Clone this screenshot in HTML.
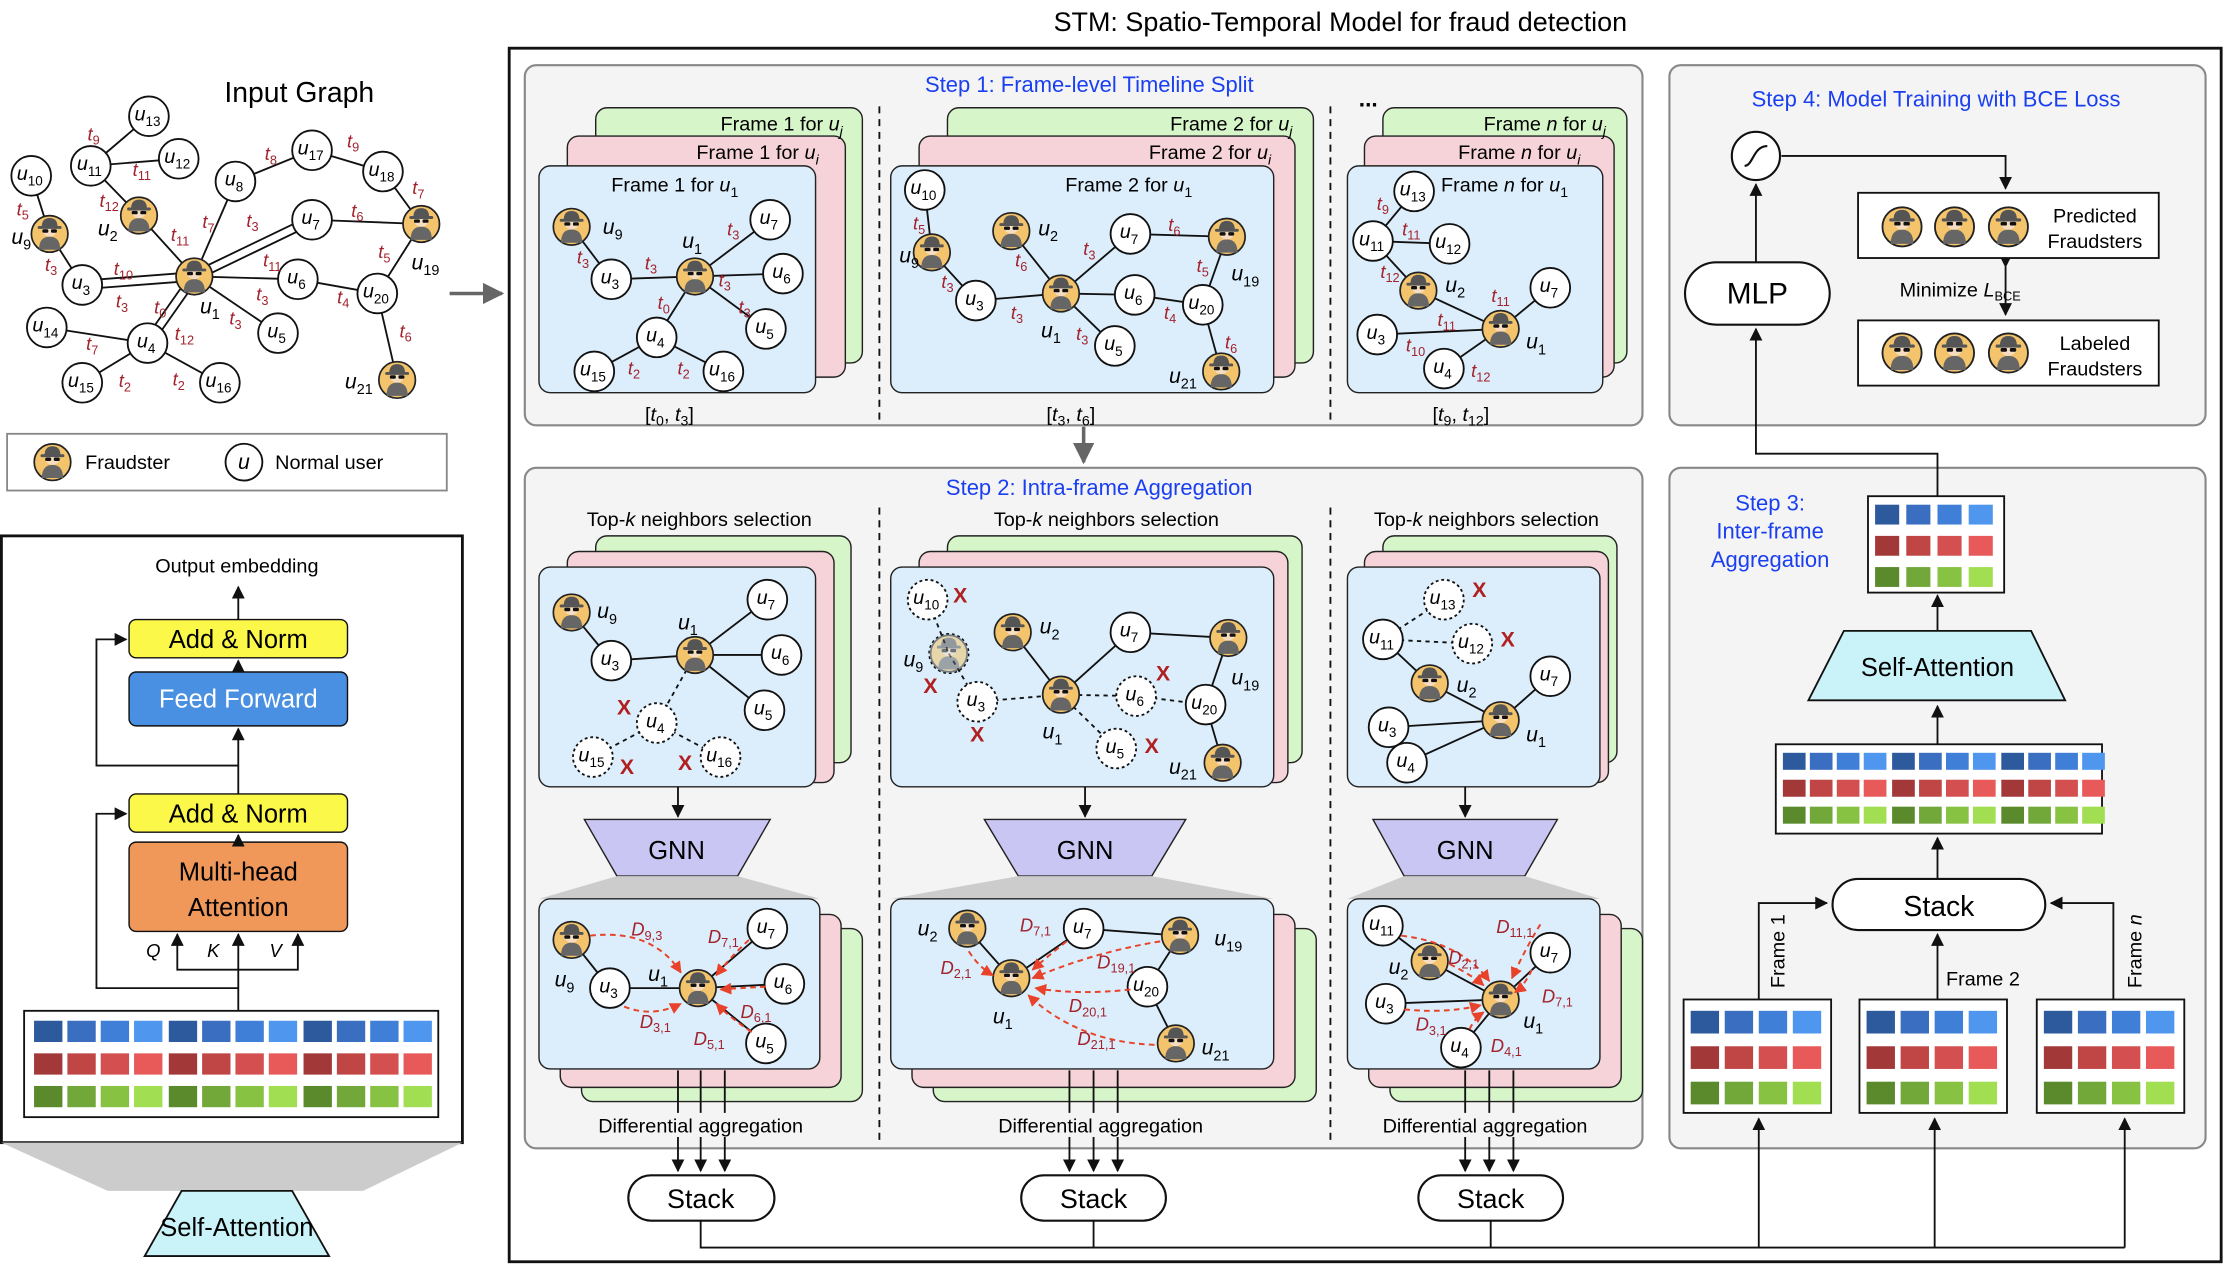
<!DOCTYPE html>
<html><head><meta charset="utf-8"><style>
html,body{margin:0;padding:0;background:#fff;}
svg{display:block;font-family:"Liberation Sans",sans-serif;}
</style></head><body>
<svg id="fig" xmlns="http://www.w3.org/2000/svg" width="2224" height="1266" viewBox="0 0 1568 893" preserveAspectRatio="none">
<defs>
<marker id="ah" viewBox="0 0 10 10" refX="9" refY="5" markerWidth="7" markerHeight="7" orient="auto"><path d="M0,0L10,5L0,10z" fill="#111"/></marker>
<marker id="ahg" viewBox="0 0 10 10" refX="9" refY="5" markerWidth="6" markerHeight="6" orient="auto"><path d="M0,0L10,5L0,10z" fill="#666"/></marker>
<marker id="ahr" viewBox="0 0 10 10" refX="9" refY="5" markerWidth="6" markerHeight="6" orient="auto"><path d="M0,0L10,5L0,10z" fill="#e8432a"/></marker>
<symbol id="fr" viewBox="-15 -15 30 30">
<circle r="13.8" fill="#f3c46b" stroke="#222" stroke-width="1.3"/>
<path d="M-8,12 Q-8,2 0,2 Q8,2 8,12 Z" fill="#666"/>
<ellipse cx="0" cy="-3" rx="5.5" ry="5" fill="#f6dcc0"/>
<path d="M-6,-5 Q-6,-12 0,-12 Q6,-12 6,-5 Z" fill="#555"/>
<rect x="-9" y="-6" width="18" height="2.2" rx="1" fill="#555"/>
<rect x="-5.5" y="-3.5" width="4.5" height="2.6" rx="1" fill="#111"/>
<rect x="1" y="-3.5" width="4.5" height="2.6" rx="1" fill="#111"/>
</symbol>
</defs>

<text x="945" y="22" font-size="19" text-anchor="middle">STM: Spatio-Temporal Model for fraud detection</text>
<rect x="359" y="34" width="1207" height="856" fill="none" stroke="#111" stroke-width="2"/>

<rect x="370" y="46" width="788" height="254" rx="8" fill="#f4f4f4" stroke="#888" stroke-width="1.5"/>
<rect x="1177" y="46" width="378" height="254" rx="8" fill="#f4f4f4" stroke="#888" stroke-width="1.5"/>
<rect x="370" y="330" width="788" height="480" rx="8" fill="#f4f4f4" stroke="#888" stroke-width="1.5"/>
<rect x="1177" y="330" width="378" height="480" rx="8" fill="#f4f4f4" stroke="#888" stroke-width="1.5"/>
<text x="768" y="65" font-size="15.5" fill="#1a3ff0" text-anchor="middle">Step 1: Frame-level Timeline Split</text>
<text x="1365" y="75" font-size="15.5" fill="#1a3ff0" text-anchor="middle">Step 4: Model Training with BCE Loss</text>
<text x="775" y="349" font-size="15.5" fill="#1a3ff0" text-anchor="middle">Step 2: Intra-frame Aggregation</text>
<g font-size="15.5" fill="#1a3ff0" text-anchor="middle">
<text x="1248" y="360">Step 3:</text><text x="1248" y="380">Inter-frame</text><text x="1248" y="400">Aggregation</text></g>

<g stroke="#111" stroke-width="1.3" stroke-dasharray="5,4">
<line x1="620" y1="75" x2="620" y2="297"/><line x1="938" y1="75" x2="938" y2="297"/>
<line x1="620" y1="358" x2="620" y2="806"/><line x1="938" y1="358" x2="938" y2="806"/>
</g>
<text x="958" y="75" font-size="16" font-weight="bold">...</text>

<g>
<rect x="420" y="76" width="188" height="180" rx="8" fill="#d6f5c9" stroke="#222"/>
<rect x="400" y="96" width="196" height="170" rx="8" fill="#f5d3d9" stroke="#222"/>
<rect x="380" y="117" width="195" height="160" rx="8" fill="#dceefb" stroke="#222"/>
<text x="508" y="92" font-size="14">Frame 1 for <tspan font-style="italic">u</tspan><tspan font-size="10" dy="4" font-style="italic">j</tspan></text>
<text x="491" y="112" font-size="14">Frame 1 for <tspan font-style="italic">u</tspan><tspan font-size="10" dy="4" font-style="italic">i</tspan></text>
<text x="431" y="135" font-size="14">Frame 1 for <tspan font-style="italic">u</tspan><tspan font-size="10" dy="4">1</tspan></text>
<text x="472" y="297" font-size="14" text-anchor="middle">[<tspan font-style="italic">t</tspan><tspan font-size="10" dy="3">0</tspan><tspan dy="-3">, </tspan><tspan font-style="italic">t</tspan><tspan font-size="10" dy="3">3</tspan><tspan dy="-3">]</tspan></text>
</g>
<g>
<rect x="668" y="76" width="258" height="180" rx="8" fill="#d6f5c9" stroke="#222"/>
<rect x="648" y="96" width="265" height="170" rx="8" fill="#f5d3d9" stroke="#222"/>
<rect x="628" y="117" width="270" height="160" rx="8" fill="#dceefb" stroke="#222"/>
<text x="825" y="92" font-size="14">Frame 2 for <tspan font-style="italic">u</tspan><tspan font-size="10" dy="4" font-style="italic">j</tspan></text>
<text x="810" y="112" font-size="14">Frame 2 for <tspan font-style="italic">u</tspan><tspan font-size="10" dy="4" font-style="italic">i</tspan></text>
<text x="751" y="135" font-size="14">Frame 2 for <tspan font-style="italic">u</tspan><tspan font-size="10" dy="4">1</tspan></text>
<text x="755" y="297" font-size="14" text-anchor="middle">[<tspan font-style="italic">t</tspan><tspan font-size="10" dy="3">3</tspan><tspan dy="-3">, </tspan><tspan font-style="italic">t</tspan><tspan font-size="10" dy="3">6</tspan><tspan dy="-3">]</tspan></text>
</g>
<g>
<rect x="975" y="76" width="172" height="180" rx="8" fill="#d6f5c9" stroke="#222"/>
<rect x="962" y="96" width="176" height="170" rx="8" fill="#f5d3d9" stroke="#222"/>
<rect x="950" y="117" width="180" height="160" rx="8" fill="#dceefb" stroke="#222"/>
<text x="1046" y="92" font-size="14">Frame <tspan font-style="italic">n</tspan> for <tspan font-style="italic">u</tspan><tspan font-size="10" dy="4" font-style="italic">j</tspan></text>
<text x="1028" y="112" font-size="14">Frame <tspan font-style="italic">n</tspan> for <tspan font-style="italic">u</tspan><tspan font-size="10" dy="4" font-style="italic">i</tspan></text>
<text x="1016" y="135" font-size="14">Frame <tspan font-style="italic">n</tspan> for <tspan font-style="italic">u</tspan><tspan font-size="10" dy="4">1</tspan></text>
<text x="1030" y="297" font-size="14" text-anchor="middle">[<tspan font-style="italic">t</tspan><tspan font-size="10" dy="3">9</tspan><tspan dy="-3">, </tspan><tspan font-style="italic">t</tspan><tspan font-size="10" dy="3">12</tspan><tspan dy="-3">]</tspan></text>
</g>
<line x1="764" y1="301" x2="764" y2="326" stroke="#666" stroke-width="2.5" marker-end="url(#ahg)"/>

<g font-size="14" text-anchor="middle">
<text x="493" y="371">Top-<tspan font-style="italic">k</tspan> neighbors selection</text>
<text x="780" y="371">Top-<tspan font-style="italic">k</tspan> neighbors selection</text>
<text x="1048" y="371">Top-<tspan font-style="italic">k</tspan> neighbors selection</text>
</g>
<g stroke="#222">
<rect x="420" y="378" width="180" height="160" rx="8" fill="#d6f5c9"/><rect x="400" y="389" width="188" height="163" rx="8" fill="#f5d3d9"/><rect x="380" y="400" width="195" height="155" rx="8" fill="#dceefb"/>
<rect x="668" y="378" width="250" height="160" rx="8" fill="#d6f5c9"/><rect x="648" y="389" width="260" height="163" rx="8" fill="#f5d3d9"/><rect x="628" y="400" width="270" height="155" rx="8" fill="#dceefb"/>
<rect x="975" y="378" width="165" height="160" rx="8" fill="#d6f5c9"/><rect x="962" y="389" width="172" height="163" rx="8" fill="#f5d3d9"/><rect x="950" y="400" width="178" height="155" rx="8" fill="#dceefb"/>
</g>
<g>
<polygon points="412,578 543,578 520,618 435,618" fill="#c9c6f4" stroke="#222"/>
<polygon points="694,578 836,578 812,618 718,618" fill="#c9c6f4" stroke="#222"/>
<polygon points="968,578 1098,578 1075,618 990,618" fill="#c9c6f4" stroke="#222"/>
<polygon points="435,618 520,618 578,634 380,634" fill="#ccc"/>
<polygon points="718,618 812,618 898,634 628,634" fill="#ccc"/>
<polygon points="990,618 1075,618 1128,634 950,634" fill="#ccc"/>
<text x="477" y="606" font-size="18" text-anchor="middle">GNN</text>
<text x="765" y="606" font-size="18" text-anchor="middle">GNN</text>
<text x="1033" y="606" font-size="18" text-anchor="middle">GNN</text>
</g>
<g stroke="#111" stroke-width="1.3">
<line x1="478" y1="555" x2="478" y2="576" marker-end="url(#ah)"/><line x1="765" y1="555" x2="765" y2="576" marker-end="url(#ah)"/><line x1="1033" y1="555" x2="1033" y2="576" marker-end="url(#ah)"/>
</g>
<g stroke="#222">
<rect x="410" y="655" width="198" height="122" rx="8" fill="#d6f5c9"/><rect x="395" y="645" width="198" height="122" rx="8" fill="#f5d3d9"/><rect x="380" y="634" width="198" height="120" rx="8" fill="#dceefb"/>
<rect x="658" y="655" width="270" height="122" rx="8" fill="#d6f5c9"/><rect x="643" y="645" width="270" height="122" rx="8" fill="#f5d3d9"/><rect x="628" y="634" width="270" height="120" rx="8" fill="#dceefb"/>
<rect x="980" y="655" width="178" height="122" rx="8" fill="#d6f5c9"/><rect x="965" y="645" width="178" height="122" rx="8" fill="#f5d3d9"/><rect x="950" y="634" width="178" height="120" rx="8" fill="#dceefb"/>
</g>
<g stroke="#111" stroke-width="1.3">
<line x1="478" y1="755" x2="478" y2="826" marker-end="url(#ah)"/><line x1="494" y1="755" x2="494" y2="826" marker-end="url(#ah)"/><line x1="511" y1="755" x2="511" y2="826" marker-end="url(#ah)"/>
<line x1="754" y1="755" x2="754" y2="826" marker-end="url(#ah)"/><line x1="771" y1="755" x2="771" y2="826" marker-end="url(#ah)"/><line x1="788" y1="755" x2="788" y2="826" marker-end="url(#ah)"/>
<line x1="1033" y1="755" x2="1033" y2="826" marker-end="url(#ah)"/><line x1="1050" y1="755" x2="1050" y2="826" marker-end="url(#ah)"/><line x1="1067" y1="755" x2="1067" y2="826" marker-end="url(#ah)"/>
</g>
<g font-size="14" text-anchor="middle">
<rect x="415" y="785" width="158" height="17" fill="#f4f4f4"/><text x="494" y="799">Differential aggregation</text>
<rect x="697" y="785" width="158" height="17" fill="#f4f4f4"/><text x="776" y="799">Differential aggregation</text>
<rect x="968" y="785" width="158" height="17" fill="#f4f4f4"/><text x="1047" y="799">Differential aggregation</text>
</g>
<g fill="#fff" stroke="#111" stroke-width="1.5">
<rect x="443" y="829" width="103" height="32" rx="16"/><rect x="720" y="829" width="102" height="32" rx="16"/><rect x="1000" y="829" width="102" height="32" rx="16"/>
</g>
<g font-size="19" text-anchor="middle">
<text x="494" y="852">Stack</text><text x="771" y="852">Stack</text><text x="1051" y="852">Stack</text></g>
<g stroke="#111" stroke-width="1.3" fill="none">
<polyline points="494,861 494,880 1498,880"/>
<line x1="771" y1="861" x2="771" y2="880"/><line x1="1051" y1="861" x2="1051" y2="880"/>
<line x1="1240" y1="880" x2="1240" y2="789" marker-end="url(#ah)"/>
<line x1="1364" y1="880" x2="1364" y2="789" marker-end="url(#ah)"/>
<line x1="1498" y1="880" x2="1498" y2="789" marker-end="url(#ah)"/>
</g>

<g fill="#fff" stroke="#111" stroke-width="1.3">
<rect x="1187" y="705" width="104" height="80"/><rect x="1311" y="705" width="104" height="80"/><rect x="1436" y="705" width="104" height="80"/>
</g>
<g font-size="14">
<text transform="translate(1258,697) rotate(-90)">Frame 1</text>
<text x="1372" y="695">Frame 2</text>
<text transform="translate(1510,697) rotate(-90)">Frame <tspan font-style="italic">n</tspan></text>
</g>
<g stroke="#111" stroke-width="1.3" fill="none">
<polyline points="1240,705 1240,637 1288,637" marker-end="url(#ah)"/>
<line x1="1366" y1="705" x2="1366" y2="659" marker-end="url(#ah)"/>
<polyline points="1490,705 1490,637 1446,637" marker-end="url(#ah)"/>
<line x1="1366" y1="620" x2="1366" y2="591" marker-end="url(#ah)"/>
<line x1="1366" y1="525" x2="1366" y2="498" marker-end="url(#ah)"/>
<line x1="1366" y1="445" x2="1366" y2="420" marker-end="url(#ah)"/>
<polyline points="1366,350 1366,320 1238,320 1238,232" marker-end="url(#ah)"/>
<line x1="1238" y1="185" x2="1238" y2="130" marker-end="url(#ah)"/>
<polyline points="1256,110 1414,110 1414,133" marker-end="url(#ah)"/>
<line x1="1414" y1="188" x2="1414" y2="222" marker-start="url(#ah)" marker-end="url(#ah)"/>
</g>
<rect x="1292" y="620" width="150" height="36" rx="18" fill="#fff" stroke="#111" stroke-width="1.5"/>
<text x="1367" y="646" font-size="20" text-anchor="middle">Stack</text>
<rect x="1252" y="525" width="230" height="63" fill="#fff" stroke="#111" stroke-width="1.3"/>
<polygon points="1300,445 1432,445 1456,494 1275,494" fill="#c9f3f8" stroke="#111" stroke-width="1.3"/>
<text x="1366" y="477" font-size="18" text-anchor="middle">Self-Attention</text>
<rect x="1317" y="350" width="96" height="68" fill="#fff" stroke="#111" stroke-width="1.3"/>

<circle cx="1238" cy="110" r="17" fill="#fff" stroke="#111" stroke-width="1.5"/>
<path d="M1230,117 C1236,117 1236,103 1246,103" fill="none" stroke="#111" stroke-width="1.5"/>
<rect x="1188" y="185" width="102" height="44" rx="22" fill="#fff" stroke="#111" stroke-width="1.5"/>
<text x="1239" y="214" font-size="21" text-anchor="middle">MLP</text>
<rect x="1310" y="136" width="212" height="46" fill="#fff" stroke="#111" stroke-width="1.3"/>
<rect x="1310" y="226" width="212" height="46" fill="#fff" stroke="#111" stroke-width="1.3"/>
<g font-size="14" text-anchor="middle">
<text x="1477" y="157">Predicted</text><text x="1477" y="175">Fraudsters</text>
<text x="1477" y="247">Labeled</text><text x="1477" y="265">Fraudsters</text>
<text x="1382" y="209">Minimize <tspan font-style="italic">L</tspan><tspan font-size="9" dy="3">BCE</tspan></text>
</g>

<text x="211" y="72" font-size="20" text-anchor="middle">Input Graph</text>
<rect x="5" y="306" width="310" height="40" fill="#fff" stroke="#888" stroke-width="1.3"/>
<text x="60" y="331" font-size="14">Fraudster</text>
<circle cx="172" cy="326" r="13" fill="#fff" stroke="#111" stroke-width="1.3"/>
<text x="172" y="331" font-size="15" font-style="italic" text-anchor="middle">u</text>
<text x="194" y="331" font-size="14">Normal user</text>
<line x1="317" y1="207" x2="354" y2="207" stroke="#666" stroke-width="2.5" marker-end="url(#ahg)"/>

<rect x="1" y="378" width="325" height="428" fill="#fff" stroke="#111" stroke-width="2"/>
<polygon points="1,806 326,806 256,840 76,840" fill="#ccc"/>
<polygon points="128,840 206,840 232,886 102,886" fill="#c9f3f8" stroke="#111" stroke-width="1.3"/>
<text x="167" y="872" font-size="18" text-anchor="middle">Self-Attention</text>
<text x="167" y="404" font-size="14" text-anchor="middle">Output embedding</text>
<rect x="91" y="437" width="154" height="27" rx="5" fill="#fbf84a" stroke="#111"/>
<text x="168" y="457" font-size="18" text-anchor="middle">Add &amp; Norm</text>
<rect x="91" y="474" width="154" height="38" rx="5" fill="#4a90e2" stroke="#111"/>
<text x="168" y="499" font-size="18" text-anchor="middle" fill="#fff">Feed Forward</text>
<rect x="91" y="560" width="154" height="27" rx="5" fill="#fbf84a" stroke="#111"/>
<text x="168" y="580" font-size="18" text-anchor="middle">Add &amp; Norm</text>
<rect x="91" y="594" width="154" height="63" rx="5" fill="#f0975a" stroke="#111"/>
<text x="168" y="621" font-size="18" text-anchor="middle">Multi-head</text>
<text x="168" y="646" font-size="18" text-anchor="middle">Attention</text>
<g font-size="13" font-style="italic"><text x="103" y="675">Q</text><text x="146" y="675">K</text><text x="190" y="675">V</text></g>
<g stroke="#111" stroke-width="1.3" fill="none">
<line x1="168" y1="437" x2="168" y2="414" marker-end="url(#ah)"/>
<line x1="168" y1="474" x2="168" y2="466" marker-end="url(#ah)"/>
<line x1="168" y1="560" x2="168" y2="514" marker-end="url(#ah)"/>
<line x1="168" y1="594" x2="168" y2="589" marker-end="url(#ah)"/>
<line x1="168" y1="713" x2="168" y2="659" marker-end="url(#ah)"/>
<polyline points="168,684 125,684 125,659" marker-end="url(#ah)"/>
<polyline points="168,684 210,684 210,659" marker-end="url(#ah)"/>
<polyline points="168,697 68,697 68,574 89,574" marker-end="url(#ah)"/>
<polyline points="168,540 68,540 68,451 89,451" marker-end="url(#ah)"/>
</g>
<rect x="17" y="713" width="292" height="75" fill="#fff" stroke="#111" stroke-width="1.3"/>
</svg>
<script>
const svg=document.getElementById('fig');
const NS='http://www.w3.org/2000/svg';
function mk(tag,attrs,parent){const e=document.createElementNS(NS,tag);for(const k in attrs)e.setAttribute(k,attrs[k]);(parent||svg).appendChild(e);return e;}
const BLUES=['#2d5a9c','#3a6ec0','#3f7fd8','#4f96ee'];
const REDS=['#a33838','#c04646','#d44f4f','#e85a5a'];
const GREENS=['#5a8a2c','#72a83a','#88c242','#a2de52'];
function grid(x,y,groups,w,h,pitch,rowPitch,groupGap){
  for(let g=0;g<groups;g++)for(let c=0;c<4;c++){
    const cols=[BLUES,REDS,GREENS];
    for(let r=0;r<3;r++){
      const e=mk('rect',{x:x+g*groupGap+c*pitch,y:y+r*rowPitch,width:w,height:h,fill:cols[r][c]});
      
      
    }
  }
}
grid(24,720,3,20,15,23.5,23,95);
grid(1322,356,1,17,14,22,22,0);
grid(1257,531,3,16,12,19,19,77);
grid(1192,713,1,20,16,24,25,0);
grid(1316,713,1,20,16,24,25,0);
grid(1441,713,1,20,16,24,25,0);

function ulab(x,y,sub,size,anchor){
  const t=mk('text',{x:x,y:y,'font-size':size||15,'text-anchor':anchor||'middle'});
  
  
  const a=mk('tspan',{'font-style':'italic'},t);a.textContent='u';
  const b=mk('tspan',{'font-size':(size||15)*0.68,dy:4},t);b.textContent=sub;
  return t;
}
function tlab(x,y,sub,col,letter){
  const t=mk('text',{x:x,y:y,'font-size':13,fill:col||'#a3232d','text-anchor':'middle'});
  
  
  const a=mk('tspan',{'font-style':'italic'},t);a.textContent=letter||'t';
  const b=mk('tspan',{'font-size':9,dy:3},t);b.textContent=sub;
}
function node(x,y,sub,o){
  o=o||{};const r=o.r||14;
  if(o.fraud){
    const u=mk('use',{href:'#fr',x:x-r,y:y-r,width:2*r,height:2*r});
    
    
    if(o.dashed){u.setAttribute('opacity','0.55');
      const c=mk('circle',{cx:x,cy:y,r:r,fill:'none',stroke:'#111','stroke-dasharray':'2,2'});
      
      }
    if(sub)ulab(o.lx,o.ly,sub,15);
  }else{
    const c=mk('circle',{cx:x,cy:y,r:r,fill:'#fff',stroke:'#111','stroke-width':1.3,'stroke-dasharray':o.dashed?'2,2':'none'});
    
    
    ulab(x-1,y+3,sub,14);
  }
}
function edges(P,list,dashed){
  list.forEach(p=>{const a=P[p[0]],b=P[p[1]];
    const l=mk('line',{x1:a[0],y1:a[1],x2:b[0],y2:b[1],stroke:'#111','stroke-width':1.3,'stroke-dasharray':(dashed||p[2]==='d')?'3,3':'none'});
    
    
    if(p[2]==='2'){const dx=b[0]-a[0],dy=b[1]-a[1],L=Math.hypot(dx,dy),nx=-dy/L*3,ny=dx/L*3;
      l.setAttribute('x1',a[0]+nx);l.setAttribute('y1',a[1]+ny);l.setAttribute('x2',b[0]+nx);l.setAttribute('y2',b[1]+ny);
      const l2=mk('line',{x1:a[0]-nx,y1:a[1]-ny,x2:b[0]-nx,y2:b[1]-ny,stroke:'#111','stroke-width':1.3});
      
      }
  });
}
function graph(P,E,F,labels){
  edges(P,E);
  for(const k in P){const p=P[k];node(p[0],p[1],k,{fraud:F[k],lx:(labels[k]||[])[0],ly:(labels[k]||[])[1],dashed:p[2]});}
}
function xmark(x,y){const t=mk('text',{x:x,y:y,'font-size':15,'font-weight':'bold',fill:'#b02020','text-anchor':'middle'});
  
  
  t.textContent='X';}
function darrow(d){const p=mk('path',{d:d,fill:'none',stroke:'#e8432a','stroke-width':1.4,'stroke-dasharray':'4,3','marker-end':'url(#ahr)'});
  
  }
function dlab(x,y,s){const t=mk('text',{x:x,y:y,'font-size':13,fill:'#a3232d','text-anchor':'middle'});
  
  
  const a=mk('tspan',{'font-style':'italic'},t);a.textContent='D';
  const b=mk('tspan',{'font-size':9,dy:3},t);b.textContent=s;}

graph({13:[105,82],11:[64,117],12:[126,112],10:[22,124],9:[35,165],2:[98,152],8:[166,128],17:[220,106],18:[270,121],19:[297,158],7:[220,155],1:[137,195],3:[58,201],6:[210,197],20:[266,207],14:[33,231],4:[104,242],5:[196,235],15:[58,270],16:[155,270],21:[280,268]},
 [[13,11],[11,12],[11,2],[10,9],[9,3],[2,1],[3,1,'2'],[8,1],[8,17],[17,18],[18,19],[7,1,'2'],[7,19],[6,1],[6,20],[19,20],[20,21],[1,5],[1,4,'2'],[4,14],[4,15],[4,16]],
 {9:1,2:1,1:1,19:1,21:1},{9:[15,172],2:[76,166],1:[148,221],19:[300,190],21:[253,274]});
[[66,99,9],[16,152,5],[100,124,11],[77,146,12],[36,191,3],[87,194,10],[86,217,3],[127,170,11],[147,161,7],[113,221,0],[130,240,12],[166,229,3],[178,160,3],[192,188,11],[185,212,3],[191,113,8],[249,104,9],[252,153,6],[271,182,5],[242,214,4],[295,137,7],[286,238,6],[65,247,7],[88,273,2],[126,272,2]].forEach(a=>tlab(a[0],a[1],a[2]));
const lg=mk('use',{href:'#fr',x:23,y:312,width:28,height:28});



graph({9:[403,160],3:[431,197],1:[490,195],7:[543,155],6:[552,193],5:[540,232],4:[463,238],15:[419,262],16:[510,262]},
 [[9,3],[3,1],[1,7],[1,6],[1,5],[1,4],[4,15],[4,16]],{9:1,1:1},{9:[432,165],1:[488,175]});
[[411,186,3],[459,190,3],[517,166,3],[511,202,3],[525,221,3],[468,218,0],[447,264,2],[482,264,2]].forEach(a=>tlab(a[0],a[1],a[2]));
graph({10:[652,134],9:[657,178],2:[713,163],3:[688,212],1:[748,207],7:[797,165],6:[800,208],5:[786,244],20:[848,215],19:[865,167],21:[861,262]},
 [[10,9],[9,3],[2,1],[3,1],[1,7],[1,5],[1,6],[6,20],[7,19],[19,20],[20,21]],{9:1,2:1,1:1,19:1,21:1},{9:[641,185],2:[739,166],1:[741,238],19:[878,198],21:[834,270]});
[[648,162,5],[668,203,3],[720,188,6],[717,225,3],[768,180,3],[763,240,3],[828,163,6],[825,225,4],[848,192,5],[868,246,6]].forEach(a=>tlab(a[0],a[1],a[2]));
graph({13:[997,135],11:[968,170],12:[1022,172],2:[1000,205],3:[971,236],4:[1018,260],1:[1058,232],7:[1093,203]},
 [[13,11],[11,12],[11,2],[2,1],[3,1],[4,1],[1,7]],{2:1,1:1},{2:[1026,206],1:[1083,246]});
[[975,148,9],[995,166,11],[980,196,12],[1058,213,11],[1020,230,11],[998,248,10],[1044,266,12]].forEach(a=>tlab(a[0],a[1],a[2]));

edges({1:[490,462],4:[463,510],15:[418,534],16:[508,534]},[[1,4],[4,15],[4,16]],true);
graph({9:[403,432],3:[431,466],1:[490,462],7:[541,423],6:[551,462],5:[539,501]},[[9,3],[3,1],[1,7],[1,6],[1,5]],{9:1,1:1},{9:[428,436],1:[485,444]});
node(463,510,4,{dashed:1});node(418,534,15,{dashed:1});node(508,534,16,{dashed:1});
xmark(440,504);xmark(442,546);xmark(483,543);
edges({9:[669,461],3:[689,495],1:[748,490],6:[801,491],5:[787,528],10:[654,423],20:[850,497]},[[10,9],[9,3],[3,1],[1,6],[1,5],[6,20]],true);
graph({2:[714,446],1:[748,490],7:[797,446],20:[850,497],19:[866,450],21:[862,538]},[[2,1],[1,7],[7,19],[19,20],[20,21]],{2:1,1:1,19:1,21:1},{2:[740,447],1:[742,521],19:[878,483],21:[834,546]});
node(654,423,10,{dashed:1});node(669,461,null,{fraud:1,dashed:1});ulab(644,470,9,15);node(689,495,3,{dashed:1});node(801,491,6,{dashed:1});node(787,528,5,{dashed:1});
xmark(677,425);xmark(656,489);xmark(689,523);xmark(820,480);xmark(812,531);
edges({13:[1018,423],11:[975,451],12:[1038,454]},[[13,11],[11,12]],true);
graph({11:[975,451],2:[1008,482],3:[979,513],4:[992,538],1:[1058,508],7:[1093,477]},[[11,2],[2,1],[3,1],[4,1],[1,7]],{2:1,1:1},{2:[1034,488],1:[1083,523]});
node(1018,423,13,{dashed:1});node(1038,454,12,{dashed:1});
xmark(1043,421);xmark(1063,456);

graph({9:[403,663],3:[430,697],1:[492,697],7:[541,655],6:[553,694],5:[540,736]},[[9,3],[3,1],[1,7],[1,6],[1,5]],{9:1,1:1},{9:[398,696],1:[464,692]});
darrow('M416,660 Q460,655 480,686');darrow('M528,663 Q515,675 505,688');darrow('M540,696 Q520,697 508,698');darrow('M530,728 Q515,718 505,708');darrow('M440,710 Q460,718 480,708');
dlab(456,660,'9,3');dlab(510,665,'7,1');dlab(533,718,'6,1');dlab(462,725,'3,1');dlab(500,737,'5,1');
graph({2:[682,655],1:[713,690],7:[764,655],19:[832,660],20:[809,696],21:[829,736]},[[2,1],[1,7],[7,19],[19,20],[20,21]],{2:1,1:1,19:1,21:1},{2:[654,660],1:[707,722],19:[866,667],21:[857,744]});
darrow('M683,671 Q690,682 700,688');darrow('M752,664 Q738,675 728,684');darrow('M818,664 Q770,672 728,690');darrow('M797,698 Q760,702 730,697');darrow('M814,737 Q760,735 725,702');
dlab(674,687,'2,1');dlab(730,657,'7,1');dlab(787,683,'19,1');dlab(767,714,'20,1');dlab(773,737,'21,1');
graph({11:[975,653],2:[1008,678],3:[977,708],4:[1030,739],1:[1058,705],7:[1093,672]},[[11,2],[2,1],[3,1],[4,1],[1,7]],{2:1,1:1},{2:[986,687],1:[1081,725]});
darrow('M988,660 Q1030,665 1050,692');darrow('M1086,652 Q1075,670 1066,690');darrow('M1022,680 Q1038,688 1046,695');darrow('M990,712 Q1020,715 1044,709');darrow('M1036,726 Q1040,718 1046,714');darrow('M1080,684 Q1075,695 1068,700');
dlab(1068,658,'11,1');dlab(1032,680,'2,1');dlab(1098,707,'7,1');dlab(1009,727,'3,1');dlab(1062,742,'4,1');

[[1341,160],[1378,160],[1416,160],[1341,249],[1378,249],[1416,249]].forEach(p=>{
  const u=mk('use',{href:'#fr',x:p[0]-15,y:p[1]-15,width:30,height:30});
  
  
});
</script>
</body></html>
